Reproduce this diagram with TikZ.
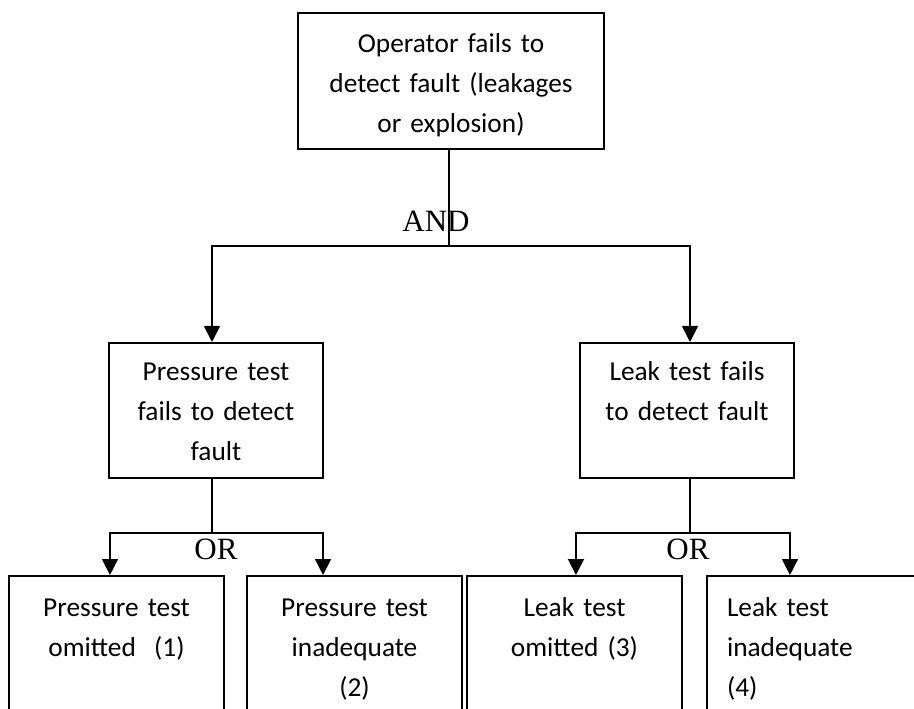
\documentclass[tikz,border=0pt]{standalone}
\usepackage{fontspec}
\setmainfont{Carlito}
\newfontfamily\gatefont{Liberation Serif}
\usetikzlibrary{positioning, arrows.meta}

\begin{document}
\begin{tikzpicture}[x=0.75pt, y=-0.75pt, line width=1.3pt,
    box/.style={draw, anchor=north, inner sep=0pt, align=center,
        font=\fontsize{20.5}{30}\selectfont},
    gate/.style={anchor=base, font=\gatefont\fontsize{23.25}{28}\selectfont},
    arr/.style={-{Triangle[length=12pt, width=12pt]}}]
    % Marco
    \path[use as bounding box, clip] (0,0) rectangle (914,709);
    % Evento superior
    \node[box, text width=229.5pt, text height=30pt, text depth=72pt] (top) at (451,12)
        {Operator fails to\\detect fault (leakages\\or explosion)};
    % Nivel medio
    \node[box, text width=160.5pt, text height=28.5pt, text depth=72.75pt] (pf) at (216,342)
        {Pressure test\\fails to detect\\fault};
    \node[box, text width=160.5pt, text height=28.5pt, text depth=72.75pt] (lf) at (687,342)
        {Leak test fails\\to detect fault};
    % Eventos basicos
    \node[box, text width=161.25pt, text height=30.75pt, text depth=112.5pt] (po) at (116.5,575)
        {Pressure test\\omitted~~(1)};
    \node[box, text width=161.25pt, text height=30.75pt, text depth=112.5pt] (pi) at (354.5,575)
        {Pressure test\\inadequate\\(2)};
    \node[box, text width=161.25pt, text height=30.75pt, text depth=112.5pt] (lo) at (574.5,575)
        {Leak test\\omitted (3)};
    \node[box, text width=131.25pt, inner xsep=15pt, align=left, text height=30.75pt, text depth=112.5pt] (li) at (814.5,575)
        {Leak test\\inadequate\\(4)};
    % Puertas
    \coordinate (andj) at (449,246);
    \coordinate (orl) at (212,533);
    \coordinate (orr) at (690,533);
    \node[gate] (andlbl) at (436,232) {AND};
    \node[gate] (orlbl1) at (216,559) {OR};
    \node[gate] (orlbl2) at (688,559) {OR};
    % Conexiones
    \draw ([xshift=-1.5pt]top.south) -- (andj);
    \draw[arr] (andj) -| ([xshift=-3pt]pf.north);
    \draw[arr] (andj) -| ([xshift=2.25pt]lf.north);
    \draw ([xshift=-3pt]pf.south) -- (orl);
    \draw[arr] (orl) -| ([xshift=-4.9pt]po.north);
    \draw[arr] (orl) -| ([xshift=-23.6pt]pi.north);
    \draw ([xshift=2.25pt]lf.south) -- (orr);
    \draw[arr] (orr) -| ([xshift=1.1pt]lo.north);
    \draw[arr] (orr) -| ([xshift=-18.4pt]li.north);
\end{tikzpicture}
\end{document}
